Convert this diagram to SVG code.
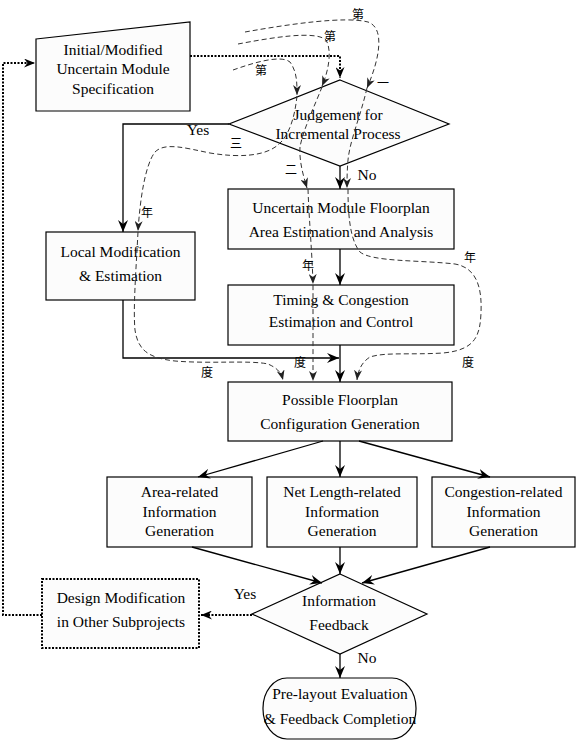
<svg xmlns="http://www.w3.org/2000/svg" width="577" height="741" viewBox="0 0 577 741">
<defs>
<marker id="ah" markerUnits="userSpaceOnUse" markerWidth="12" markerHeight="10" viewBox="0 0 12 10" refX="12" refY="5" orient="auto"><path d="M0,0 L12,5 L0,10 L4,5 z" fill="#000"/></marker>
<marker id="ad" markerUnits="userSpaceOnUse" markerWidth="10" markerHeight="8" viewBox="0 0 10 8" refX="10" refY="4" orient="auto"><path d="M0,0 L10,4 L0,8 L3,4 z" fill="#222"/></marker>
<marker id="ao" markerUnits="userSpaceOnUse" markerWidth="11" markerHeight="9" viewBox="0 0 11 9" refX="11" refY="4.5" orient="auto"><path d="M0,0 L11,4.5 L0,9 L3.5,4.5 z" fill="#000"/></marker>
</defs>
<style>
.box{fill:#fcfcfc;stroke:#000;stroke-width:1.2}
.dotbox{fill:#fcfcfc;stroke:#000;stroke-width:2;stroke-dasharray:2 1.5}
.t{font-family:"Liberation Serif","Times New Roman",serif;font-size:15.5px;fill:#000;text-anchor:middle}
.c{font-family:"Noto Sans CJK SC",sans-serif;font-size:12px;fill:#000;text-anchor:middle}
.sol{fill:none;stroke:#000;stroke-width:1.3;marker-end:url(#ah)}
.dot{fill:none;stroke:#000;stroke-width:2;stroke-dasharray:2 1.5}
.dash{fill:none;stroke:#333;stroke-width:1;stroke-dasharray:5 3}
</style>
<rect width="577" height="741" fill="#fff"/>

<g id="spec">
<path class="box" d="M36,39 L190,22 L190,111 L36,111 z"/>
<text class="t" x="113" y="55">Initial/Modified</text>
<text class="t" x="113" y="74">Uncertain Module</text>
<text class="t" x="113" y="94">Specification</text>
</g>

<g id="judgement">
<path class="box" d="M340,80 L449,124 L340,166 L229,124 z"/>
<text class="t" x="338" y="120">Judgement for</text>
<text class="t" x="338" y="139">Incremental Process</text>
</g>

<g id="local">
<rect class="box" x="46" y="232" width="149" height="68"/>
<text class="t" x="120.5" y="257">Local Modification</text>
<text class="t" x="120.5" y="281">&amp; Estimation</text>
</g>

<g id="uncertain">
<rect class="box" x="228" y="189" width="226" height="60"/>
<text class="t" x="341" y="213">Uncertain Module Floorplan</text>
<text class="t" x="341" y="237">Area Estimation and Analysis</text>
</g>

<g id="timing">
<rect class="box" x="228" y="285" width="226" height="60"/>
<text class="t" x="341" y="305">Timing &amp; Congestion</text>
<text class="t" x="341" y="327">Estimation and Control</text>
</g>

<g id="possible">
<rect class="box" x="228" y="382" width="224" height="59"/>
<text class="t" x="340" y="405">Possible Floorplan</text>
<text class="t" x="340" y="429">Configuration Generation</text>
</g>

<g id="area">
<rect class="box" x="107" y="477" width="145" height="70"/>
<text class="t" x="179.5" y="497">Area-related</text>
<text class="t" x="179.5" y="517">Information</text>
<text class="t" x="179.5" y="536">Generation</text>
</g>

<g id="netlength">
<rect class="box" x="267" y="477" width="150" height="70"/>
<text class="t" x="342" y="497">Net Length-related</text>
<text class="t" x="342" y="517">Information</text>
<text class="t" x="342" y="536">Generation</text>
</g>

<g id="congestion">
<rect class="box" x="432" y="477" width="143" height="70"/>
<text class="t" x="503.5" y="497">Congestion-related</text>
<text class="t" x="503.5" y="517">Information</text>
<text class="t" x="503.5" y="536">Generation</text>
</g>

<g id="feedback">
<path class="box" d="M340,574 L427,614 L340,654 L252,614 z"/>
<text class="t" x="339" y="606">Information</text>
<text class="t" x="339" y="630">Feedback</text>
</g>

<g id="design">
<rect class="dotbox" x="42" y="579" width="157" height="69"/>
<text class="t" x="121" y="603">Design Modification</text>
<text class="t" x="121" y="627">in Other Subprojects</text>
</g>

<g id="prelayout">
<rect class="box" x="263" y="678" width="153" height="61" rx="24" ry="30"/>
<text class="t" x="340" y="699">Pre-layout Evaluation</text>
<text class="t" x="340" y="724">&amp; Feedback Completion</text>
</g>

<g id="connectors">
<path class="dot" d="M190,56 H340 V78" marker-end="url(#ao)"/>
<path class="sol" d="M229,124 H123 V232"/>
<path class="sol" d="M340,166 V189"/>
<path class="sol" d="M340,249 V285"/>
<path class="sol" d="M123,300 V358 H339"/>
<path class="sol" d="M340,345 V382"/>
<path class="sol" d="M323,441 L198,477"/>
<path class="sol" d="M340,441 V477"/>
<path class="sol" d="M359,441 L490,477"/>
<path class="sol" d="M192,547 L322,583"/>
<path class="sol" d="M340,547 V574"/>
<path class="sol" d="M490,547 L362,583"/>
<path class="dot" d="M252,615 H201" marker-end="url(#ao)"/>
<path class="dot" d="M42,615 H3 V63 H35" marker-end="url(#ao)"/>
<path class="sol" d="M340,654 V678"/>

<path class="dash" d="M245,32 C290,24 345,16 368,22 C385,28 380,58 367,88" marker-end="url(#ad)"/>
<path class="dash" d="M367,88 C360,118 350,140 348,160 C347,172 347,180 347,188" marker-end="url(#ad)"/>
<path class="dash" d="M348,189 C348,215 350,240 360,252 C372,262 420,260 455,264 C478,268 482,290 481,313 C480,335 476,350 443,353 C410,355 385,352 370,357 C362,362 358,370 357,380" marker-end="url(#ad)"/>
<path class="dash" d="M238,44 C270,38 315,30 326,40 C332,50 329,70 322,86" marker-end="url(#ad)"/>
<path class="dash" d="M322,87 C315,105 303,130 300,147 C299,160 303,175 307,188" marker-end="url(#ad)"/>
<path class="dash" d="M308,189 C309,220 312,250 313,284" marker-end="url(#ad)"/>
<path class="dash" d="M313,285 C313,320 313,350 313,381" marker-end="url(#ad)"/>
<path class="dash" d="M233,70 C250,64 280,54 290,62 C297,72 297,82 297,95" marker-end="url(#ad)"/>
<path class="dash" d="M297,96 C295,115 290,135 278,145 C265,156 240,158 210,153 C185,148 165,142 155,152 C145,165 140,200 138,231" marker-end="url(#ad)"/>
<path class="dash" d="M138,232 C136,270 133,310 135,330 C138,350 148,358 175,361 C210,364 250,360 268,364 C277,368 281,372 283,380" marker-end="url(#ad)"/>
</g>

<g id="labels">
<text class="c" x="358" y="19">第</text>
<text class="c" x="330" y="41">第</text>
<text class="c" x="261" y="75">第</text>
<text class="c" x="383" y="88">一</text>
<text class="c" x="291" y="174">二</text>
<text class="c" x="236" y="148">三</text>
<text class="c" x="147" y="217">年</text>
<text class="c" x="308" y="270">年</text>
<text class="c" x="470" y="262">年</text>
<text class="c" x="207" y="377">度</text>
<text class="c" x="300" y="367">度</text>
<text class="c" x="468" y="367">度</text>
<text class="t" x="198" y="135">Yes</text>
<text class="t" x="367" y="180">No</text>
<text class="t" x="245" y="599">Yes</text>
<text class="t" x="367" y="663">No</text>
</g>
</svg>
